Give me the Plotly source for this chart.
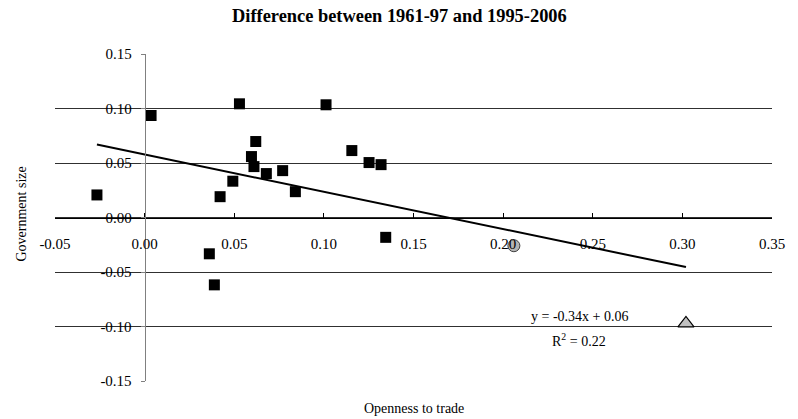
import plotly.graph_objects as go

# scatter data (openness to trade vs government size)
openness = [-0.0266, 0.0036, 0.0529, 0.1012, 0.0620, 0.0596, 0.0610, 0.0679, 0.0770,
            0.0492, 0.0421, 0.0841, 0.1156, 0.1252, 0.1319, 0.0361, 0.0389, 0.1345]
gov_size = [0.0207, 0.0936, 0.1043, 0.1034, 0.0697, 0.0559, 0.0467, 0.0403, 0.0430,
            0.0333, 0.0191, 0.0237, 0.0614, 0.0504, 0.0485, -0.0333, -0.0618, -0.0182]

circle_x = [0.206]
circle_y = [-0.0259]
triangle_x = [0.302]
triangle_y = [-0.0972]

# linear trend as printed on the chart
trend_slope = -0.342
trend_intercept = 0.0578

x_ticks = [-0.05, 0.0, 0.05, 0.10, 0.15, 0.20, 0.25, 0.30, 0.35]
y_ticks = [-0.15, -0.10, -0.05, 0.0, 0.05, 0.10, 0.15]

serif = 'Liberation Serif, Times New Roman, serif'

all_x = openness + circle_x + triangle_x
x_lo, x_hi = min(all_x), max(all_x)

fig = go.Figure()
fig.add_trace(go.Scatter(x=[x_lo, x_hi],
                         y=[trend_slope*x_lo+trend_intercept, trend_slope*x_hi+trend_intercept],
                         mode='lines', line=dict(color='black', width=2),
                         showlegend=False, hoverinfo='skip'))
fig.add_trace(go.Scatter(x=openness, y=gov_size, mode='markers',
                         marker=dict(symbol='square', size=11, color='black'),
                         showlegend=False))
fig.add_trace(go.Scatter(x=circle_x, y=circle_y, mode='markers',
                         marker=dict(symbol='circle', size=12, color='#b4b4b4',
                                     line=dict(color='#404040', width=1)),
                         showlegend=False))
fig.add_trace(go.Scatter(x=triangle_x, y=triangle_y, mode='markers',
                         marker=dict(symbol='triangle-up', size=14, color='#c0c0c0',
                                     line=dict(color='black', width=1.2)),
                         showlegend=False))

# regression label
fig.add_annotation(x=0.2424, y=-0.0912, text='y = -0.34x + 0.06',
                   showarrow=False, font=dict(family=serif, size=14, color='black'))
fig.add_annotation(x=0.2424, y=-0.1126, text='R<sup>2</sup> = 0.22',
                   showarrow=False, font=dict(family=serif, size=14, color='black'))

fig.update_xaxes(range=[-0.05, 0.35], tickvals=x_ticks, ticktext=['%.2f' % v for v in x_ticks],
                 anchor='free', position=0.5, showline=True, linecolor='black', linewidth=1,
                 ticks='inside', ticklen=5, tickcolor='black', ticklabelstandoff=12,
                 showgrid=False, zeroline=False, automargin=False,
                 tickfont=dict(family=serif, size=15, color='black'))
fig.update_yaxes(range=[-0.15, 0.15], tickvals=y_ticks, ticktext=['%.2f' % v for v in y_ticks],
                 anchor='free', position=0.125, showline=True, linecolor='#808080', linewidth=1,
                 ticks='outside', ticklen=4, tickcolor='#808080', ticklabelstandoff=6,
                 showgrid=True, gridcolor='#303030', gridwidth=1, zeroline=False, automargin=False,
                 tickfont=dict(family=serif, size=15, color='black'))

fig.add_annotation(xref='paper', yref='paper', x=0.4798, y=1.115, xanchor='center', yanchor='middle',
                   text='<b>Difference between 1961-97 and 1995-2006</b>', showarrow=False,
                   borderpad=0, font=dict(family=serif, size=18.4, color='black'))
fig.add_annotation(xref='paper', yref='paper', x=-0.047, y=0.51, xanchor='center', yanchor='middle',
                   text='Government size', textangle=-90, showarrow=False,
                   font=dict(family=serif, size=14, color='black'))
fig.add_annotation(xref='paper', yref='paper', x=0.5, y=-0.0856, xanchor='center', yanchor='middle',
                   text='Openness to trade', showarrow=False,
                   font=dict(family=serif, size=14, color='black'))

fig.update_layout(width=798, height=419,
                  margin=dict(l=55, r=26, t=54, b=38, autoexpand=False),
                  plot_bgcolor='white', paper_bgcolor='white')

# drop the default 8px page margin so the figure fills the window exactly
fig.write_html('out.html', config={'displayModeBar': False},
               post_script="document.body.style.margin='0';")
